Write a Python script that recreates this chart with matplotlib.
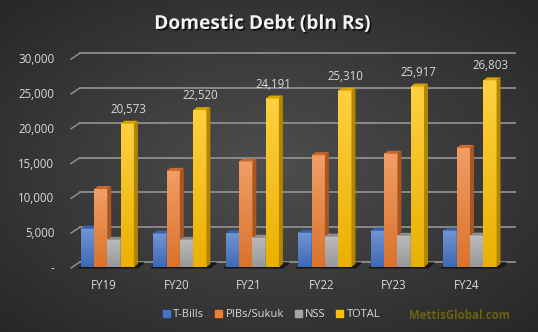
import numpy as np
import matplotlib
matplotlib.use('Agg')
import matplotlib.pyplot as plt
import matplotlib.patheffects as pe
from matplotlib.patches import Polygon, Patch
from matplotlib.colors import to_rgb

# Data (bln Rs)
years = ['FY19', 'FY20', 'FY21', 'FY22', 'FY23', 'FY24']
t_bills = [5500, 4800, 4850, 4900, 5200, 5200]
pibs_sukuk = [11200, 13800, 15150, 16050, 16250, 17100]
nss = [3900, 3900, 4190, 4360, 4470, 4500]
total = [20573, 22520, 24191, 25310, 25917, 26803]

series_names = ['T-Bills', 'PIBs/Sukuk', 'NSS', 'TOTAL']
series_vals = [t_bills, pibs_sukuk, nss, total]
colors = ['#4472C4', '#ED7D31', '#A5A5A5', '#FFC000']

y_ticks = [0, 5000, 10000, 15000, 20000, 25000, 30000]
y_labels = ['-', '5,000', '10,000', '15,000', '20,000', '25,000', '30,000']

FONT = 'Open Sans'
TXT = '#d9d9d9'

fig = plt.figure(figsize=(5.38, 3.32), dpi=100)

# background radial gradient
bg = fig.add_axes([0, 0, 1, 1])
yy, xx = np.mgrid[0:1:200j, 0:1:300j]
r = np.sqrt(((xx - 0.5) / 0.75) ** 2 + ((yy - 0.5) / 0.75) ** 2)
r = np.clip(r / 0.95, 0, 1)
c_in = np.array(to_rgb('#4e4e4e'))
c_out = np.array(to_rgb('#272727'))
img = c_in[None, None, :] * (1 - r[..., None]) + c_out[None, None, :] * r[..., None]
bg.imshow(img, aspect='auto', extent=[0, 1, 0, 1])
bg.set_axis_off()

ax = fig.add_axes([0.132, 0.196, 0.809, 0.629])
ax.set_facecolor('none')
ax.set_xlim(-0.5, 5.5)
ax.set_ylim(0, 30000)
for s in ax.spines.values():
    s.set_visible(False)

# pixel -> data unit conversion for the 3D depth
fig.canvas.draw()
bb = ax.get_window_extent()
px_x = 6.0 / bb.width
px_y = 30000.0 / bb.height
dx, dy = 4 * px_x, 3 * px_y

# back-wall gridlines, shifted up/right, with slanted left part
gx, gy = 9 * px_x, 5 * px_y
for v in y_ticks:
    ax.plot([-0.5 + gx, 5.5 + gx], [v + gy, v + gy], color='#959595', lw=1.2,
            zorder=0, clip_on=False)
    ax.plot([-0.5, -0.5 + gx], [v - 1 * px_y, v + gy], color='#959595',
            lw=1.0, zorder=0, clip_on=False)

x = np.arange(len(years))
w = 0.183
offs = [-1.5, -0.5, 0.5, 1.5]

# floor shadow under each group
for xi in x:
    x0 = xi - 2 * w
    x1 = xi + 2 * w
    ax.add_patch(Polygon([[x0 - 2 * px_x, -1 * px_y], [x1 + dx, -1 * px_y],
                          [x1 + dx + 6 * px_x, 4 * px_y], [x0 + 6 * px_x, 4 * px_y]],
                         closed=True, color='#141414', alpha=0.8, zorder=1,
                         clip_on=False))


def shade(c, f):
    c = np.array(to_rgb(c))
    if f < 1:
        return tuple(c * f)
    return tuple(c + (1 - c) * (f - 1))


for k, (name, vals, col) in enumerate(zip(series_names, series_vals, colors)):
    z = 2 + k
    bars = ax.bar(x + offs[k] * w, vals, width=w, color=col, zorder=z,
                  edgecolor='none')
    for b in bars:
        x0 = b.get_x()
        x1 = x0 + b.get_width()
        h = b.get_height()
        # vertical gradient on front
        grad = np.linspace(0, 1, 64)[:, None]
        top_c = np.array(shade(col, 1.25))
        bot_c = np.array(shade(col, 0.92))
        gimg = bot_c[None, None, :] * (1 - grad[..., None]) + top_c[None, None, :] * grad[..., None]
        ax.imshow(gimg, extent=[x0, x1, 0, h], aspect='auto', origin='lower',
                  zorder=z)
        # side face
        ax.add_patch(Polygon([[x1, 0], [x1, h], [x1 + dx, h + dy], [x1 + dx, dy]],
                             closed=True, color=shade(col, 0.7), zorder=z,
                             lw=0))
        # top face
        ax.add_patch(Polygon([[x0, h], [x1, h], [x1 + dx, h + dy], [x0 + dx, h + dy]],
                             closed=True, color=shade(col, 0.85), zorder=z,
                             lw=0))

ax.set_xlim(-0.5, 5.5)
ax.set_ylim(0, 30000)

# total labels
for xi, v in zip(x, total):
    ax.annotate(f'{v:,}', (xi + 1.5 * w, v), xytext=(1, 8),
                textcoords='offset pixels', ha='center', va='bottom',
                color=TXT, fontsize=8.3, family=FONT, zorder=10)

ax.set_yticks(y_ticks)
ax.set_yticklabels(y_labels)
ax.set_xticks(x - 0.05)
ax.set_xticklabels(years)
ax.tick_params(axis='both', length=0, colors=TXT, labelsize=8.3)
ax.tick_params(axis='y', pad=12)
ax.tick_params(axis='x', pad=9)
for lab in ax.get_xticklabels() + ax.get_yticklabels():
    lab.set_family(FONT)

fig.text(0.488, 0.928, 'Domestic Debt (bln Rs)', ha='center', va='center',
         color='#f2f2f2', fontsize=13.8, fontweight='bold', family=FONT,
         path_effects=[pe.withSimplePatchShadow(offset=(1.2, -1.2),
                                                shadow_rgbFace='black', alpha=0.7)])

handles = [Patch(color=c) for c in colors]
leg = fig.legend(handles, series_names, loc='center', bbox_to_anchor=(0.505, 0.052),
                 ncol=4, frameon=False, handlelength=0.6, handleheight=0.6,
                 handletextpad=0.3, columnspacing=1.0,
                 prop={'family': FONT, 'size': 8})
for t in leg.get_texts():
    t.set_color(TXT)

fig.text(0.855, 0.05, 'MettisGlobal.com', ha='center', va='center',
         color='#6e5f14', fontsize=8.3, fontweight='bold', family=FONT)

fig.savefig('out.png', dpi=100)
plt.close(fig)
